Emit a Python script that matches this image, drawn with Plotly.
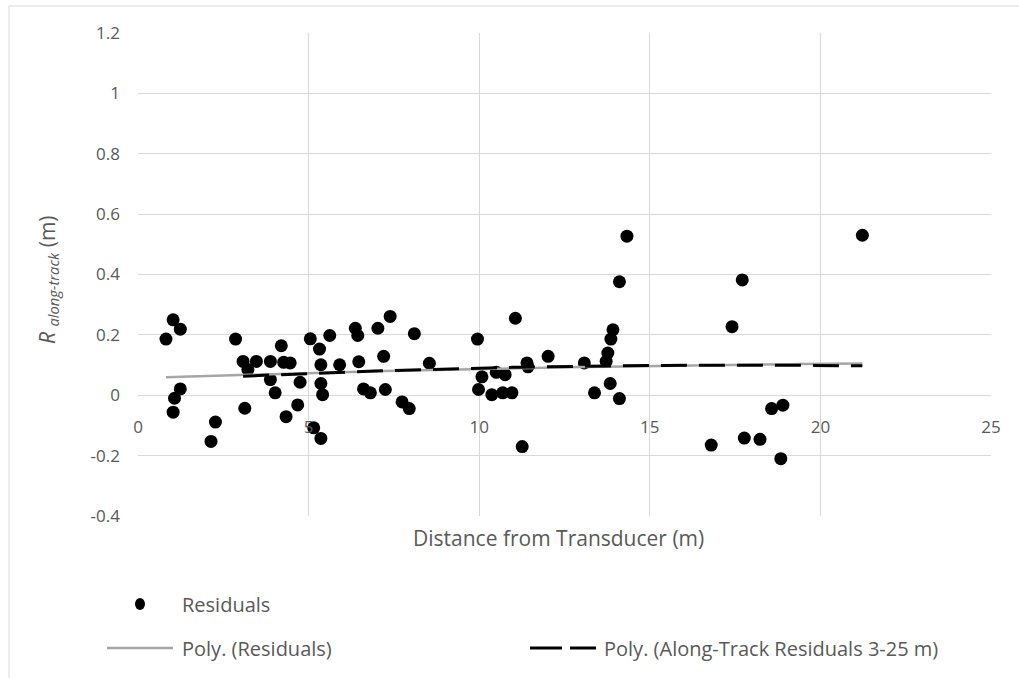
import numpy as np
import plotly.graph_objects as go

# Along-track residuals against distance from the transducer
distance_m = [
    0.82, 1.03, 1.24, 1.24, 1.07, 1.03, 2.27, 2.14, 2.86, 3.08,
    3.22, 3.13, 3.47, 3.88, 3.88, 4.02, 4.20, 4.27, 4.46, 4.34,
    4.68, 4.75, 5.05, 5.32, 5.36, 5.62, 5.91, 5.36, 5.41, 5.15,
    5.36, 6.37, 6.44, 6.47, 6.61, 6.81, 7.03, 7.39, 7.20, 7.25,
    7.74, 7.95, 8.10, 8.54, 9.95, 10.08, 9.98, 10.37, 10.50, 10.76,
    10.69, 10.96, 11.06, 11.40, 11.43, 11.26, 12.02, 13.08, 14.33, 14.11,
    13.92, 13.86, 13.77, 13.72, 13.84, 13.38, 14.11, 21.23, 17.71, 17.41,
    18.57, 18.90, 16.80, 17.77, 18.23, 18.84,
]
residual_m = [
    0.186, 0.250, 0.219, 0.021, -0.010, -0.056, -0.089, -0.153, 0.186, 0.112,
    0.085, -0.043, 0.112, 0.112, 0.052, 0.008, 0.164, 0.109, 0.107, -0.071,
    -0.032, 0.043, 0.187, 0.153, 0.101, 0.198, 0.101, 0.039, 0.002, -0.108,
    -0.143, 0.222, 0.198, 0.111, 0.021, 0.008, 0.222, 0.261, 0.129, 0.019,
    -0.022, -0.044, 0.204, 0.106, 0.186, 0.061, 0.019, 0.002, 0.076, 0.068,
    0.008, 0.008, 0.255, 0.107, 0.094, -0.170, 0.129, 0.107, 0.527, 0.376,
    0.217, 0.186, 0.140, 0.112, 0.039, 0.008, -0.011, 0.530, 0.382, 0.227,
    -0.044, -0.033, -0.165, -0.142, -0.146, -0.210,
]

x_tick_vals = [0, 5, 10, 15, 20, 25]
y_tick_vals = [-0.4, -0.2, 0, 0.2, 0.4, 0.6, 0.8, 1.0, 1.2]
y_tick_text = ["-0.4", "-0.2", "0", "0.2", "0.4", "0.6", "0.8", "1", "1.2"]

legend_labels = ["Residuals", "Poly. (Residuals)", "Poly. (Along-Track Residuals 3-25 m)"]

# Figure geometry (pixels)
W, H = 1019, 678
ML, MR, MT, MB = 138, 28, 33, 162
PW, PH = W - ML - MR, H - MT - MB

FONT = "Open Sans"
TXT = "#595959"
GRID = "#D9D9D9"


def px_x(px):
    return (px - ML) / PW


def px_y(py):
    return (H - MB - py) / PH


x_all = np.array(distance_m)
y_all = np.array(residual_m)


# Second-order polynomial trendlines: all residuals, and residuals from 3 m onward
def poly_trend(x, y):
    coef = np.polyfit(x, y, 2)
    xs = np.linspace(x.min(), x.max(), 100)
    return xs, np.polyval(coef, xs)


tx_all, ty_all = poly_trend(x_all, y_all)
far = x_all >= 3
tx_far, ty_far = poly_trend(x_all[far], y_all[far])

fig = go.Figure()
fig.add_trace(go.Scatter(
    x=distance_m, y=residual_m, mode="markers", name=legend_labels[0],
    marker=dict(color="black", size=13, line=dict(width=0)), showlegend=False,
))
fig.add_trace(go.Scatter(
    x=tx_all, y=ty_all, mode="lines", name=legend_labels[1],
    line=dict(color="#A6A6A6", width=2.5), showlegend=False,
))
fig.add_trace(go.Scatter(
    x=tx_far, y=ty_far, mode="lines", name=legend_labels[2],
    line=dict(color="black", width=3, dash="26px,12px"), showlegend=False,
))

shapes = [
    # outer chart border
    dict(type="rect", xref="paper", yref="paper",
         x0=px_x(9), x1=px_x(1060), y0=px_y(720), y1=px_y(6),
         line=dict(color=GRID, width=1), fillcolor="rgba(0,0,0,0)", layer="below"),
    # legend symbols
    dict(type="circle", xref="paper", yref="paper",
         xsizemode="pixel", ysizemode="pixel",
         xanchor=px_x(140), yanchor=px_y(604), x0=-5, x1=5, y0=-6, y1=6,
         fillcolor="black", line=dict(width=0)),
    dict(type="line", xref="paper", yref="paper",
         x0=px_x(107), x1=px_x(173), y0=px_y(648), y1=px_y(648),
         line=dict(color="#A6A6A6", width=2.5)),
    dict(type="line", xref="paper", yref="paper",
         x0=px_x(530), x1=px_x(562), y0=px_y(648), y1=px_y(648),
         line=dict(color="black", width=3)),
    dict(type="line", xref="paper", yref="paper",
         x0=px_x(570), x1=px_x(596), y0=px_y(648), y1=px_y(648),
         line=dict(color="black", width=3)),
]

annotations = [
    dict(text="Distance from Transducer (m)", xref="paper", yref="paper",
         x=px_x(558), y=px_y(538), showarrow=False, xanchor="center", yanchor="middle",
         font=dict(family=FONT, size=21, color=TXT)),
    dict(text="<i>R</i> <sub><i>along-track</i></sub> (m)", xref="paper", yref="paper",
         x=px_x(48), y=px_y(280), showarrow=False, textangle=-90,
         xanchor="center", yanchor="middle",
         font=dict(family=FONT, size=21, color=TXT)),
    dict(text=legend_labels[0], xref="paper", yref="paper",
         x=px_x(180), y=px_y(604), showarrow=False, xanchor="left", yanchor="middle",
         font=dict(family=FONT, size=20, color=TXT)),
    dict(text=legend_labels[1], xref="paper", yref="paper",
         x=px_x(180), y=px_y(648), showarrow=False, xanchor="left", yanchor="middle",
         font=dict(family=FONT, size=20, color=TXT)),
    dict(text=legend_labels[2], xref="paper", yref="paper",
         x=px_x(602), y=px_y(648), showarrow=False, xanchor="left", yanchor="middle",
         font=dict(family=FONT, size=20, color=TXT)),
]

fig.update_layout(
    width=W, height=H,
    margin=dict(l=ML, r=MR, t=MT, b=MB, pad=0),
    paper_bgcolor="white", plot_bgcolor="white",
    showlegend=False,
    shapes=shapes, annotations=annotations,
    xaxis=dict(
        range=[0, 25], tickvals=x_tick_vals, showgrid=True, gridcolor=GRID, gridwidth=1,
        zeroline=False, showline=False, ticks="",
        anchor="free", position=0.25, ticklabelstandoff=20,
        tickfont=dict(family=FONT, size=17, color=TXT),
    ),
    yaxis=dict(
        range=[-0.4, 1.2], tickvals=y_tick_vals, ticktext=y_tick_text,
        showgrid=True, gridcolor=GRID, gridwidth=1,
        zeroline=False, showline=False, ticks="", ticklabelstandoff=17,
        tickfont=dict(family=FONT, size=17, color=TXT),
    ),
)

fig.write_html("out.html")
